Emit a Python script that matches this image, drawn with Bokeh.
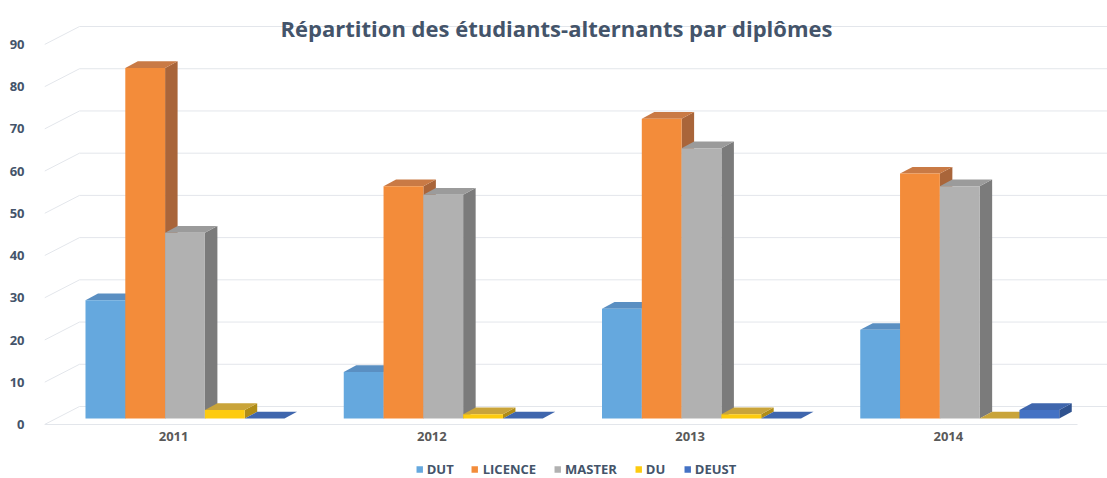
from bokeh.plotting import figure
from bokeh.models import Range1d, LinearAxis, FixedTicker, Legend, LegendItem, Label
from bokeh.embed import file_html
from bokeh.resources import INLINE

# ---------------- data ----------------
years = ["2011", "2012", "2013", "2014"]
series = ["DUT", "LICENCE", "MASTER", "DU", "DEUST"]
dut = [28, 11, 26, 21]
licence = [83, 55, 71, 58]
master = [44, 53, 64, 55]
du = [2, 1, 1, 0]
deust = [0, 0, 0, 2]
y_ticks = [0, 10, 20, 30, 40, 50, 60, 70, 80, 90]
title_text = "Répartition des étudiants-alternants par diplômes"

values = [dut, licence, master, du, deust]
front_colors = ["#65a8de", "#f38c3a", "#b1b1b1", "#fdcb0f", "#4472c4"]
top_colors = ["#5a8fc2", "#c97a45", "#9b9b9b", "#c9a43a", "#3f66ad"]
side_colors = ["#3f78ad", "#a9653a", "#7b7b7b", "#b08d17", "#2f528f"]

# ---------------- geometry (pixels -> data units) ----------------
W, H = 1107, 478
FRAME_LEFT = 44
FRAME_W = W - FRAME_LEFT
BASE_PX = 418          # pixel row of the bars' zero line
PX_X = 258.25          # pixels per year group
PX_Y = 4.222           # pixels per unit
bar_w = 39.8 / PX_X
grp_pad = 41 / PX_X
dx = 12.5 / PX_X
dy = 6.7 / PX_Y
back_left = 35 / PX_X
front_off = -6 / PX_Y
back_off = 12 / PX_Y
y1 = BASE_PX / PX_Y
y0 = -(H - BASE_PX) / PX_Y
xmax = FRAME_W / PX_X

FONT = "Open Sans"
TXT = "#44546A"

p = figure(width=W, height=H,
           x_range=Range1d(0, xmax), y_range=Range1d(y0, y1),
           y_axis_location=None, output_backend="svg", toolbar_location=None,
           min_border_left=FRAME_LEFT, min_border_right=0, min_border_top=0,
           min_border_bottom=0)
p.outline_line_color = None
p.xgrid.visible = False
p.ygrid.visible = False
p.background_fill_color = "white"
p.border_fill_color = "white"

# front axis (labels at the front plane)
p.extra_y_ranges = {"front": Range1d(y0 - front_off, y1 - front_off)}
yax = LinearAxis(y_range_name="front", ticker=FixedTicker(ticks=y_ticks))
yax.axis_line_color = None
yax.major_tick_line_color = None
yax.minor_tick_line_color = None
yax.major_label_standoff = 14
yax.major_label_text_font = FONT
yax.major_label_text_font_size = "13px"
yax.major_label_text_font_style = "bold"
yax.major_label_text_color = TXT
p.add_layout(yax, "left")

xax = p.xaxis[0]
xax.fixed_location = front_off
xax.ticker = FixedTicker(ticks=[i + 0.5 for i in range(len(years))])
xax.major_label_overrides = {i + 0.5: y for i, y in enumerate(years)}
xax.axis_line_color = None
xax.major_tick_line_color = None
xax.minor_tick_line_color = None
xax.major_tick_out = 0
xax.major_tick_in = 0
xax.major_label_standoff = 7
xax.major_label_text_font = FONT
xax.major_label_text_font_size = "13px"
xax.major_label_text_font_style = "bold"
xax.major_label_text_color = "#595959"

# back wall gridlines + diagonals + front floor line
gy = [t + back_off for t in y_ticks]
p.segment(x0=[back_left] * len(y_ticks), y0=gy, x1=[xmax] * len(y_ticks), y1=gy,
          line_color="#e3e6eb", line_width=1)
p.segment(x0=[0] * len(y_ticks), y0=[t + front_off for t in y_ticks],
          x1=[back_left] * len(y_ticks), y1=gy, line_color="#e3e6eb", line_width=1)
p.segment(x0=[0], y0=[front_off], x1=[len(years)], y1=[front_off],
          line_color="#e3e6eb", line_width=1.2)

# 3D bars
front_renderers = []
for i, s in enumerate(series):
    lefts, rights, tops = [], [], []
    side_xs, side_ys, top_xs, top_ys = [], [], [], []
    for g, v in enumerate(values[i]):
        xl = g + grp_pad + i * bar_w
        xr = xl + bar_w
        lefts.append(xl)
        rights.append(xr)
        tops.append(v)
        side_xs.append([xr, xr + dx, xr + dx, xr])
        side_ys.append([0, dy, v + dy, v])
        top_xs.append([xl, xr, xr + dx, xl + dx])
        top_ys.append([v, v, v + dy, v + dy])
    p.patches(side_xs, side_ys, fill_color=side_colors[i], line_color=None)
    p.patches(top_xs, top_ys, fill_color=top_colors[i], line_color=None)
    r = p.quad(left=lefts, right=rights, bottom=[0] * len(tops), top=tops,
               fill_color=front_colors[i], line_color=None)
    front_renderers.append(r)

legend = Legend(items=[LegendItem(label=s, renderers=[front_renderers[i]])
                       for i, s in enumerate(series)],
                orientation="horizontal", location="bottom_center",
                glyph_width=8, glyph_height=8, label_standoff=4, spacing=17,
                label_text_font=FONT, label_text_font_size="13px",
                label_text_font_style="bold", label_text_color=TXT,
                border_line_color=None, background_fill_alpha=0,
                padding=2, margin=0, label_height=12)
p.add_layout(legend)

title = Label(x=(556 - FRAME_LEFT) / PX_X, y=(BASE_PX - 27) / PX_Y, text=title_text,
              text_align="center", text_baseline="alphabetic",
              text_font=FONT, text_font_size="22px", text_font_style="bold",
              text_color=TXT)
p.add_layout(title)

open("out.html", "w").write(file_html(p, INLINE))
